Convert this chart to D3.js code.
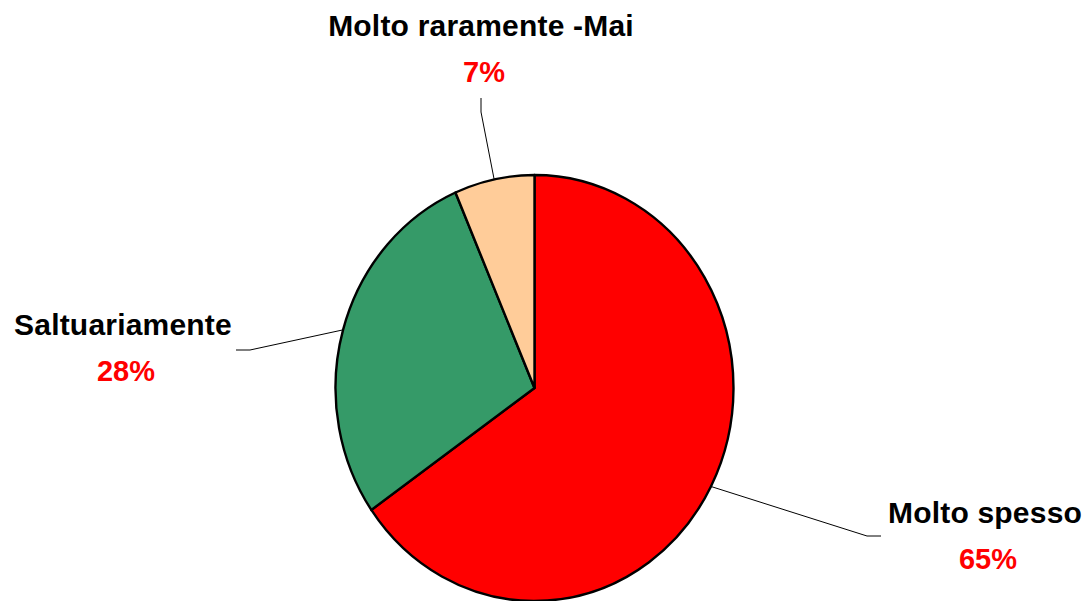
<!DOCTYPE html>
<html>
<head>
<meta charset="utf-8">
<script src="https://cdn.jsdelivr.net/npm/d3@7"></script>
<style>
  body { margin: 0; background: #fff; }
  text { font-family: "Liberation Sans", Arial, sans-serif; font-weight: bold; }
</style>
</head>
<body>
<script>
// data
var categories = ["Molto spesso", "Saltuariamente", "Molto raramente -Mai"];
var values = [65.3, 28.2, 6.5];
var colors = ["#ff0000", "#359a68", "#ffcc99"];

// label placement (set by hand, like the original)
var labelPos = [
  {x: 985, y: 523, elbow: [867, 536], end: [881, 536]},
  {x: 123, y: 335, elbow: [250, 350], end: [236, 350]},
  {x: 481, y: 36,  elbow: [481, 112], end: [481, 98]}
];

var width = 1092, height = 601;
var cx = 534.5, cy = 388;
var rx = 199, ry = 213;

var svg = d3.select("body").append("svg")
  .attr("width", width)
  .attr("height", height);

var pie = d3.pie().sort(null).value(function(d) { return d; });
var arcs = pie(values);

var arc = d3.arc().innerRadius(0).outerRadius(rx);

var g = svg.append("g")
  .attr("transform", "translate(" + cx + "," + cy + ") scale(1," + (ry / rx) + ")");

g.selectAll("path")
  .data(arcs)
  .enter().append("path")
  .attr("d", arc)
  .attr("fill", function(d, i) { return colors[i]; })
  .attr("stroke", "#000")
  .attr("stroke-width", 2.4)
  .attr("vector-effect", "non-scaling-stroke")
  .attr("stroke-linejoin", "round");

function edgePoint(d) {
  var a = (d.startAngle + d.endAngle) / 2;
  return [cx + rx * Math.sin(a), cy - ry * Math.cos(a)];
}

var line = d3.line();

svg.selectAll(".leader")
  .data(arcs)
  .enter().append("path")
  .attr("class", "leader")
  .attr("d", function(d, i) {
    return line([edgePoint(d), labelPos[i].elbow, labelPos[i].end]);
  })
  .attr("fill", "none")
  .attr("stroke", "#000")
  .attr("stroke-width", 1);

var total = d3.sum(values);

svg.selectAll(".name")
  .data(arcs)
  .enter().append("text")
  .attr("class", "name")
  .attr("x", function(d, i) { return labelPos[i].x; })
  .attr("y", function(d, i) { return labelPos[i].y; })
  .attr("text-anchor", "middle")
  .style("font-size", "30px")
  .style("letter-spacing", "0.2px")
  .attr("fill", "#000")
  .text(function(d, i) { return categories[i]; });

svg.selectAll(".pct")
  .data(arcs)
  .enter().append("text")
  .attr("class", "pct")
  .attr("x", function(d, i) { return labelPos[i].x + 3; })
  .attr("y", function(d, i) { return labelPos[i].y + 46; })
  .attr("text-anchor", "middle")
  .style("font-size", "29px")
  .attr("fill", "#ff0000")
  .text(function(d) { return Math.round(d.value / total * 100) + "%"; });
</script>
</body>
</html>
